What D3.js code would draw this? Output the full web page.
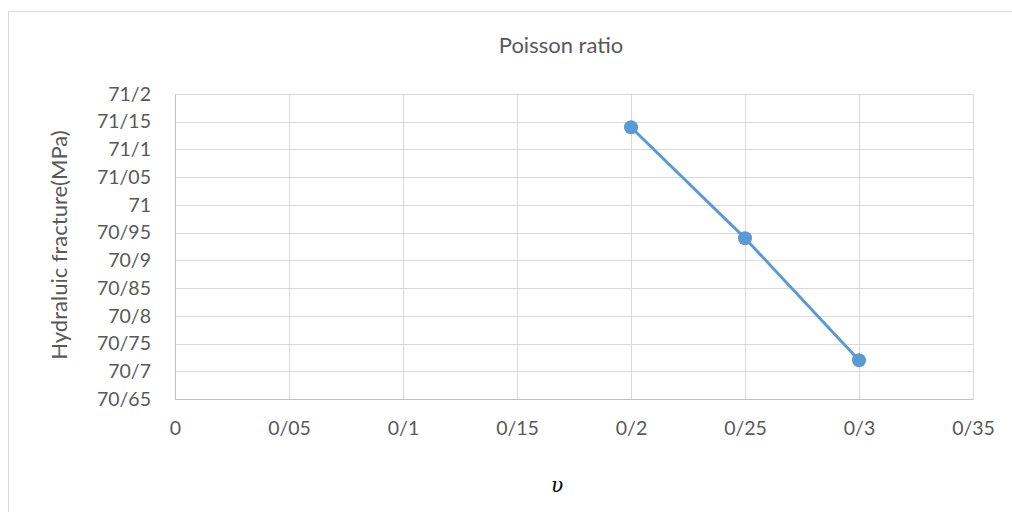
<!DOCTYPE html>
<html>
<head>
<meta charset="utf-8">
<script src="https://cdn.jsdelivr.net/npm/d3@7"></script>
<style>
  html, body { margin: 0; padding: 0; background: #fff; }
  svg { display: block; }
</style>
</head>
<body>
<svg id="chart" width="1012" height="512"></svg>
<script>
// Data
const xValues = [0.2, 0.25, 0.3];
const yValues = [71.14, 70.94, 70.72];
const xTicks = [0, 0.05, 0.1, 0.15, 0.2, 0.25, 0.3, 0.35];
const yTicks = [70.65, 70.7, 70.75, 70.8, 70.85, 70.9, 70.95, 71, 71.05, 71.1, 71.15, 71.2];
const titleText = "Poisson ratio";
const yLabelText = "Hydraluic fracture(MPa)";
const xLabelText = "υ";

const svg = d3.select("#chart");
const W = 1012, H = 512;
const plot = { left: 175, right: 973, top: 94, bottom: 399 };
const font = "Lato, 'Open Sans', sans-serif";
const textColor = "#595959";

// outer chart border
svg.append("rect")
  .attr("x", 8.5).attr("y", 11.5)
  .attr("width", W + 10).attr("height", H + 10)
  .attr("fill", "#fff").attr("stroke", "#d9d9d9").attr("stroke-width", 1);

const x = d3.scaleLinear().domain([0, 0.35]).range([plot.left, plot.right]);
const y = d3.scaleLinear().domain([70.65, 71.2]).range([plot.bottom, plot.top]);

const fmt = v => {
  const s = d3.format("~g")(+v.toFixed(4));
  return s.replace(".", "/");
};

// gridlines
const g = svg.append("g");
g.selectAll("line.hy").data(yTicks).join("line")
  .attr("x1", plot.left).attr("x2", plot.right)
  .attr("y1", d => Math.round(y(d)) + 0.5).attr("y2", d => Math.round(y(d)) + 0.5)
  .attr("stroke", "#d9d9d9").attr("stroke-width", 1);
g.selectAll("line.vx").data(xTicks).join("line")
  .attr("y1", plot.top).attr("y2", plot.bottom)
  .attr("x1", d => Math.round(x(d)) + 0.5).attr("x2", d => Math.round(x(d)) + 0.5)
  .attr("stroke", "#d9d9d9").attr("stroke-width", 1);

// axes using d3 axis generators (labels only)
const yAxis = d3.axisLeft(y).tickValues(yTicks).tickFormat(fmt).tickSize(0).tickPadding(24);
const yg = svg.append("g").attr("transform", `translate(${plot.left},0)`).call(yAxis);
yg.select(".domain").attr("stroke", "#bfbfbf");
yg.selectAll("text").attr("font-family", font).attr("font-size", 19.5).attr("fill", textColor);

const xAxis = d3.axisBottom(x).tickValues(xTicks).tickFormat(fmt).tickSize(0).tickPadding(22);
const xg = svg.append("g").attr("transform", `translate(0,${plot.bottom})`).call(xAxis);
xg.select(".domain").attr("stroke", "#bfbfbf");
xg.selectAll("text").attr("font-family", font).attr("font-size", 19.5).attr("fill", textColor);

// line
const pts = xValues.map((v, i) => [v, yValues[i]]);
svg.append("path")
  .datum(pts)
  .attr("fill", "none")
  .attr("stroke", "#5b9bd5")
  .attr("stroke-width", 3)
  .attr("stroke-linejoin", "round")
  .attr("d", d3.line().x(d => x(d[0])).y(d => y(d[1])));

svg.selectAll("circle.pt").data(pts).join("circle")
  .attr("cx", d => x(d[0])).attr("cy", d => y(d[1]))
  .attr("r", 7).attr("fill", "#5b9bd5");

// title
svg.append("text")
  .attr("x", 561).attr("y", 53)
  .attr("text-anchor", "middle")
  .attr("font-family", font).attr("font-size", 22).attr("fill", textColor)
  .text(titleText);

// y label
svg.append("text")
  .attr("transform", `translate(67,245) rotate(-90)`)
  .attr("text-anchor", "middle")
  .attr("font-family", font).attr("font-size", 22).attr("fill", textColor)
  .text(yLabelText);

// x label
svg.append("text")
  .attr("x", 557).attr("y", 492)
  .attr("text-anchor", "middle")
  .attr("font-family", "'DejaVu Serif', 'Liberation Serif', serif")
  .attr("font-style", "italic")
  .attr("font-size", 20).attr("fill", "#000")
  .text(xLabelText);
</script>
</body>
</html>
